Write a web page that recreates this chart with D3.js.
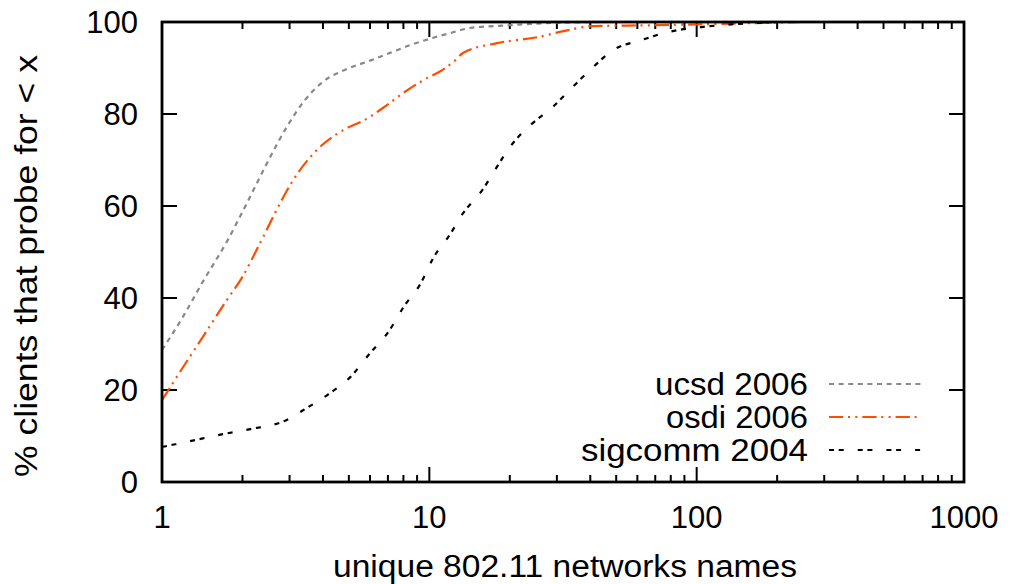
<!DOCTYPE html>
<html><head><meta charset="utf-8">
<script src="https://cdn.jsdelivr.net/npm/d3@7"></script>
<style>
html,body{margin:0;padding:0;background:#fff;}
text{font-family:"Liberation Sans",Arial,sans-serif;fill:#000;}
</style></head>
<body><svg id="c" width="1011" height="584"></svg>
<script>
const xTicks = [1, 10, 100, 1000];
const yTicks = [0, 20, 40, 60, 80, 100];
const seriesNames = ["ucsd 2006", "osdi 2006", "sigcomm 2004"];

const ucsdX = [1, 1.2, 1.42, 1.75, 2.08, 2.47, 2.93, 3.4, 4, 4.93, 6, 7.14, 8.5, 10.1, 12, 14.2, 20, 29, 50, 100];
const ucsdY = [28.7, 36, 43.5, 52.3, 60.7, 69.3, 77.2, 82.8, 87, 89.8, 91.6, 93.3, 95, 96.4, 97.6, 98.7, 99.3, 99.8, 100, 100];

const osdiX = [1, 1.2, 1.42, 1.75, 2, 2.33, 2.77, 3.1, 3.8, 4.76, 5.85, 6.7, 8, 9.8, 11, 12.3, 13.4, 17.9, 25.4, 31.7, 41, 69, 123, 250];
const osdiY = [17.8, 25, 31.5, 39.6, 44.6, 52, 60.7, 65.7, 72.2, 76.5, 79, 81.3, 84.6, 87.8, 89.3, 91.3, 93.3, 95.4, 96.7, 98, 99.1, 99.3, 99.6, 100];

const sigX = [1, 1.3, 1.69, 2.14, 2.93, 3.37, 4.15, 5.06, 6, 7.1, 8, 9.25, 10.3, 12, 13.4, 15.8, 17.9, 20, 23.9, 28.9, 34.4, 41, 48.7, 61.6, 78, 104, 123, 200];
const sigY = [7.6, 9, 10.4, 11.5, 13.5, 15.6, 18.9, 22.8, 28, 33, 38, 43, 48.5, 54, 58.5, 63.5, 68.5, 72.8, 77.6, 81.5, 85.9, 90.2, 93.9, 96, 97.8, 98.9, 99.3, 100];

const L = 162, R = 964, T = 22, B = 482;
const FS = 31;
const svg = d3.select("#c");
const x = d3.scaleLog().domain([1, 1000]).range([L, R]);
const y = d3.scaleLinear().domain([0, 100]).range([B, T]);

const minor = [];
for (let d = 1; d < 1000; d *= 10) for (let k = 2; k <= 9; k++) minor.push(d * k);

const g = svg.append("g");
function tick(x1, y1, x2, y2) {
  g.append("line").attr("x1", x1).attr("y1", y1).attr("x2", x2).attr("y2", y2)
    .attr("stroke", "#000").attr("stroke-width", 2);
}
xTicks.forEach(v => { tick(x(v), B, x(v), B - 15); tick(x(v), T, x(v), T + 15); });
minor.forEach(v => { tick(x(v), B, x(v), B - 7); tick(x(v), T, x(v), T + 7); });
yTicks.forEach(v => { tick(L, y(v), L + 15, y(v)); tick(R, y(v), R - 15, y(v)); });

xTicks.forEach(v => g.append("text").attr("x", x(v)).attr("y", 528).attr("text-anchor", "middle")
  .attr("font-size", FS).text(v));
yTicks.forEach(v => g.append("text").attr("x", 138).attr("y", y(v) + 11).attr("text-anchor", "end")
  .attr("font-size", FS).text(v));

svg.append("text").attr("x", 333).attr("y", 577).attr("font-size", FS)
  .attr("textLength", 464).attr("lengthAdjust", "spacingAndGlyphs")
  .text("unique 802.11 networks names");
svg.append("text").attr("transform", "translate(37,477) rotate(-90)")
  .attr("font-size", FS).attr("textLength", 422).attr("lengthAdjust", "spacingAndGlyphs")
  .text("% clients that probe for < x");

const styles = [
  { color: "#888888", dash: "5,4.6" },
  { color: "#ff4d00", dash: "14.3,4.7,2,5.3,2,5" },
  { color: "#000000", dash: "5,4.7,5,14" }
];
const data = [
  ucsdX.map((v, i) => [v, ucsdY[i]]),
  osdiX.map((v, i) => [v, osdiY[i]]),
  sigX.map((v, i) => [v, sigY[i]])
];
const line = d3.line().x(d => x(d[0])).y(d => y(d[1])).curve(d3.curveMonotoneX);
data.forEach((d, i) => {
  svg.append("path").attr("d", line(d)).attr("fill", "none")
    .attr("stroke", styles[i].color).attr("stroke-width", 2.2)
    .attr("stroke-dasharray", styles[i].dash);
});

const legY = [384, 417, 450];
const legStart = [655, 666, 581];
seriesNames.forEach((n, i) => {
  svg.append("text").attr("x", legStart[i]).attr("y", legY[i] + 11)
    .attr("font-size", FS).attr("textLength", 808 - legStart[i]).attr("lengthAdjust", "spacingAndGlyphs").text(n);
  svg.append("line").attr("x1", 829).attr("x2", 922).attr("y1", legY[i]).attr("y2", legY[i])
    .attr("stroke", styles[i].color).attr("stroke-width", 2.2).attr("stroke-dasharray", styles[i].dash);
});

svg.append("rect").attr("x", L).attr("y", T).attr("width", R - L).attr("height", B - T)
  .attr("fill", "none").attr("stroke", "#000").attr("stroke-width", 2.8);
</script></body></html>
